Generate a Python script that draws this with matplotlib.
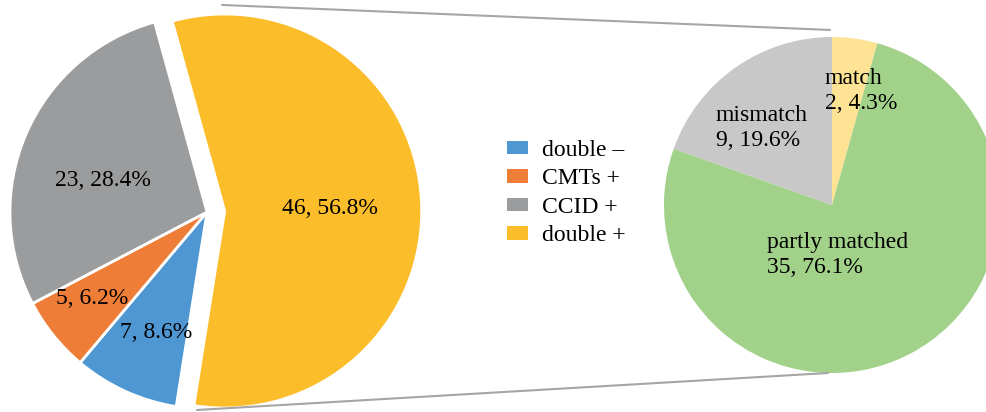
import matplotlib
matplotlib.use('Agg')
import matplotlib.pyplot as plt
from matplotlib.patches import Patch, ConnectionPatch

plt.rcParams['font.family'] = ['Liberation Serif', 'DejaVu Serif']

# main pie
groups = ['double \u2013', 'CMTs +', 'CCID +', 'double +']
group_counts = [7, 5, 23, 46]
group_colors = ['#4f97d2', '#ee7d37', '#9b9c9d', '#fcbd2b']

# breakdown of "double +"
detail = ['match', 'partly matched', 'mismatch']
detail_counts = [2, 35, 9]
detail_colors = ['#fde393', '#a2d18a', '#c8c8c8']

W, H = 987, 412
fig = plt.figure(figsize=(W/100, H/100), dpi=100)
fs = 17

# left pie, radius 197 px
r1 = 197.
ax1 = fig.add_axes([0, 0, 460/W, 1])
w1, _ = ax1.pie(group_counts, colors=group_colors, startangle=-99, counterclock=False,
                explode=[0, 0, 0, 0.09],
                wedgeprops=dict(edgecolor='white', linewidth=2))
ax1.set_xlim(-207/r1, 253/r1)
ax1.set_ylim(-200/r1, 212/r1)
ax1.set_aspect('auto')

tot1 = sum(group_counts)
left_xy = [(-0.259, -0.614), (-0.584, -0.437), (-0.528, 0.162), (0.624, 0.02)]
for v, (x, y) in zip(group_counts, left_xy):
    ax1.text(x, y, '%d, %.1f%%' % (v, 100.0*v/tot1), ha='center', va='center', fontsize=fs)

# right pie, radius 168 px
r2 = 168.
ax2 = fig.add_axes([640/W, 0, 347/W, 1])
w2, _ = ax2.pie(detail_counts, colors=detail_colors, startangle=90, counterclock=False,
                wedgeprops=dict(linewidth=0))
ax2.set_xlim(-192/r2, 155/r2)
ax2.set_ylim(-207/r2, 205/r2)
ax2.set_aspect('auto')

tot2 = sum(detail_counts)
right_xy = [(0.173, 0.679), (0.036, -0.298), (-0.417, 0.458)]
for name, v, (x, y) in zip(detail, detail_counts, right_xy):
    ax2.text(x, y, '%s\n%d, %.1f%%' % (name, v, 100.0*v/tot2), ha='center', va='center',
             multialignment='left', fontsize=fs)

# connector lines
for a, b in [((0.076, 1.051), (-0.012, 1.042)), ((-0.051, -1.005), (-0.024, -1.0))]:
    con = ConnectionPatch(xyA=a, coordsA=ax1.transData, xyB=b, coordsB=ax2.transData,
                          color='#a6a6a6', lw=1.5)
    fig.add_artist(con)

handles = [Patch(facecolor=c) for c in group_colors]
fig.legend(handles, groups, loc='center left', bbox_to_anchor=(507/W, 1-193/H),
           frameon=False, fontsize=fs, handlelength=0.9, handleheight=0.5,
           handletextpad=0.6, labelspacing=0.32, borderaxespad=0, borderpad=0)

fig.savefig('out.png', dpi=100)
